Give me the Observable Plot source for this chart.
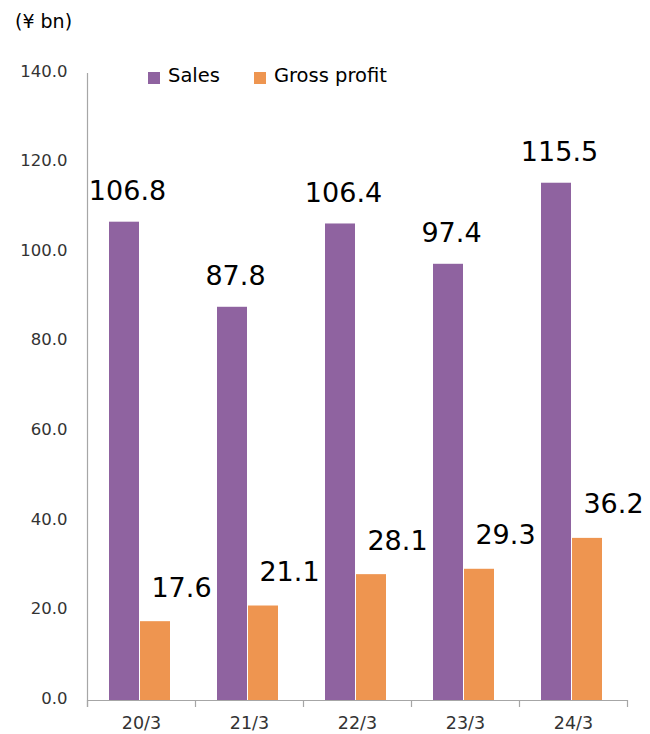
<!DOCTYPE html>
<html>
<head>
<meta charset="utf-8">
<script src="https://cdn.jsdelivr.net/npm/d3@7"></script>
<script src="https://cdn.jsdelivr.net/npm/@observablehq/plot@0.6"></script>
<style>
  body { margin: 0; background: #fff; font-family: "DejaVu Sans", sans-serif; }
  #wrap { position: relative; width: 650px; height: 734px; }
  #unit { position: absolute; left: 15px; top: 10px; font-size: 19px; color: #000; }
  #legend { position: absolute; left: 148px; top: 64px; font-size: 19.5px; color: #000; display: flex; align-items: center; }
  .sw { display: inline-block; width: 12px; height: 12px; margin-right: 8px; margin-top: 4px; }
  .item { display: flex; align-items: center; margin-right: 34px; }
</style>
</head>
<body>
<div id="wrap">
  <div id="chart"></div>
  <div id="unit">(¥ bn)</div>
  <div id="legend"></div>
</div>
<script>
const categories = ["20/3", "21/3", "22/3", "23/3", "24/3"];
const sales = [106.8, 87.8, 106.4, 97.4, 115.5];
const grossProfit = [17.6, 21.1, 28.1, 29.3, 36.2];
const yTicks = [0, 20, 40, 60, 80, 100, 120, 140];
const seriesNames = ["Sales", "Gross profit"];
const seriesColors = ["#8F63A0", "#EE9550"];

const rows = [];
categories.forEach((c, i) => {
  rows.push({cat: c, i, series: "Sales", value: sales[i]});
  rows.push({cat: c, i, series: "Gross profit", value: grossProfit[i]});
});
const salesRows = rows.filter(d => d.series === "Sales");
const grossRows = rows.filter(d => d.series === "Gross profit");

const axisGrey = "#A6A6A6";

const chart = Plot.plot({
  width: 650,
  height: 734,
  marginLeft: 87,
  marginRight: 23,
  marginTop: 73,
  marginBottom: 34,
  style: {fontFamily: "DejaVu Sans, sans-serif", background: "#fff"},
  x: {type: "linear", domain: [0, categories.length], label: null},
  y: {domain: [0, 140], label: null},
  marks: [
    Plot.rectY(salesRows, {x1: "i", x2: d => d.i + 1, y: "value", fill: seriesColors[0], insetLeft: 22, insetRight: 56}),
    Plot.rectY(grossRows, {x1: "i", x2: d => d.i + 1, y: "value", fill: seriesColors[1], insetLeft: 53, insetRight: 25}),
    Plot.ruleY([0], {stroke: axisGrey, strokeWidth: 1.2}),
    Plot.ruleX([0], {y1: 140, y2: 0, stroke: axisGrey, strokeWidth: 1.2, insetBottom: -7}),
    Plot.axisX({ticks: d3.range(0, categories.length + 1), tickSize: 7, tickFormat: () => "", stroke: axisGrey, strokeWidth: 1.2, label: null}),
    Plot.axisX({ticks: categories.map((c, i) => i + 0.5), tickSize: 0, tickPadding: 16, tickFormat: d => categories[Math.floor(d)], fontSize: 17.5, fill: "#333", label: null}),
    Plot.axisY({ticks: yTicks, tickSize: 0, tickPadding: 20, tickFormat: d3.format(".1f"), fontSize: 16.5, fill: "#333", dy: -2, label: null}),
    Plot.text(salesRows, {x: d => d.i + 0.5, y: "value", text: d => d.value.toFixed(1), dx: -14, dy: -22, lineAnchor: "bottom", fontSize: 27, fill: "#000"}),
    Plot.text(grossRows, {x: d => d.i + 0.5, y: "value", text: d => d.value.toFixed(1), dx: 40, dy: -25, lineAnchor: "bottom", fontSize: 27, fill: "#000"})
  ]
});
document.getElementById("chart").appendChild(chart);

const legend = document.getElementById("legend");
seriesNames.forEach((name, k) => {
  const item = document.createElement("span");
  item.className = "item";
  const sw = document.createElement("span");
  sw.className = "sw";
  sw.style.background = seriesColors[k];
  item.appendChild(sw);
  item.appendChild(document.createTextNode(name));
  legend.appendChild(item);
});
</script>
</body>
</html>
